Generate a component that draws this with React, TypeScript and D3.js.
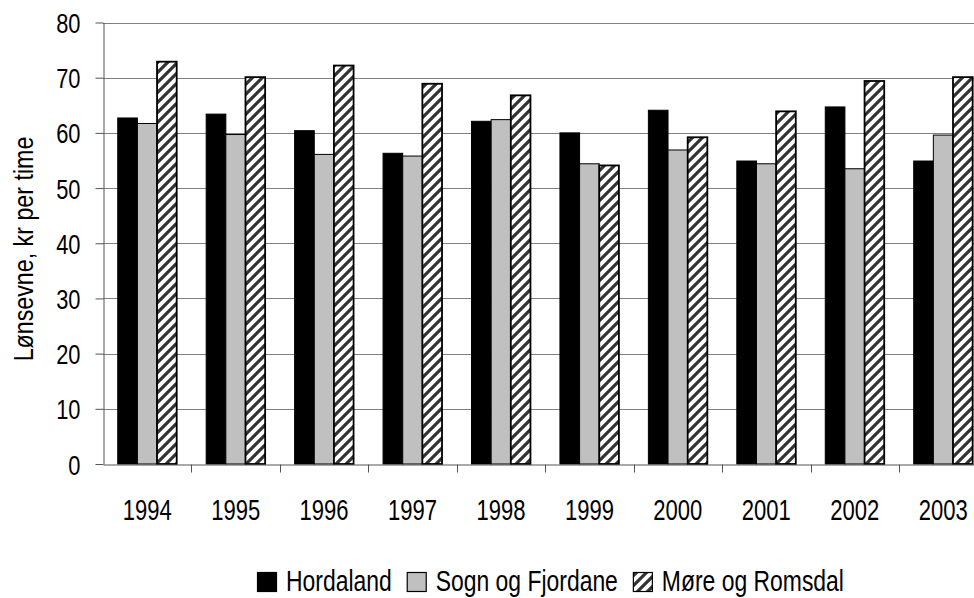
import { useRef, useEffect } from 'react';
import * as d3 from 'd3';

// data
const years = ['1994', '1995', '1996', '1997', '1998', '1999', '2000', '2001', '2002', '2003'];
const hordaland = [62.7, 63.4, 60.4, 56.3, 62.1, 60.0, 64.1, 54.9, 64.7, 54.9];
const sognOgFjordane = [61.7, 59.7, 56.1, 55.8, 62.4, 54.4, 56.9, 54.4, 53.5, 59.6];
const moreOgRomsdal = [72.9, 70.1, 72.2, 68.9, 66.8, 54.1, 59.2, 63.9, 69.4, 70.1];
const seriesNames = ['Hordaland', 'Sogn og Fjordane', 'Møre og Romsdal'];
const yTicks = [0, 10, 20, 30, 40, 50, 60, 70, 80];

const W = 974;
const H = 598;
const FONT = '"Liberation Sans", Arial, sans-serif';

const margin = { top: 22.5, left: 103, bottom: 134 };
const plotRight = 987.4; // plot runs past the window edge

// squeeze text horizontally to mimic a condensed face
const narrow = (sel: any, size: number, k: number) => {
  sel.attr('font-family', FONT).attr('font-size', size).attr('fill', '#000');
  sel.each(function (this: SVGTextElement) {
    const L = this.getComputedTextLength();
    this.setAttribute('textLength', String(L * k));
    this.setAttribute('lengthAdjust', 'spacingAndGlyphs');
  });
};

const App = () => {
  const ref = useRef<SVGSVGElement>(null);

  useEffect(() => {
    const svg = d3.select(ref.current);
    svg.selectAll('*').remove();

    const defs = svg.append('defs');
    const pat = defs
      .append('pattern')
      .attr('id', 'hatch')
      .attr('patternUnits', 'userSpaceOnUse')
      .attr('width', 10)
      .attr('height', 10);
    pat.append('rect').attr('width', 10).attr('height', 10).attr('fill', '#fff');
    pat
      .append('path')
      .attr('d', 'M-2,12 L12,-2 M-5,5 L5,-5 M5,15 L15,5')
      .attr('stroke', '#333')
      .attr('stroke-width', 3.2);

    const x = d3.scaleBand<string>().domain(years).range([margin.left, plotRight]).padding(0);
    const y = d3.scaleLinear().domain([0, 80]).range([H - margin.bottom, margin.top]);
    const bw = x.bandwidth() / 4.5;

    const series = [hordaland, sognOgFjordane, moreOgRomsdal];
    const fills = ['#000', '#c0c0c0', 'url(#hatch)'];

    // gridlines
    svg
      .append('g')
      .selectAll('line')
      .data(yTicks.filter((t) => t > 0))
      .join('line')
      .attr('x1', margin.left)
      .attr('x2', plotRight)
      .attr('y1', (d) => Math.round(y(d)) + 0.5)
      .attr('y2', (d) => Math.round(y(d)) + 0.5)
      .attr('stroke', '#808080')
      .attr('stroke-width', 1);

    // bars
    series.forEach((vals, si) => {
      svg
        .append('g')
        .selectAll('rect')
        .data(vals)
        .join('rect')
        .attr('x', (_, i) => (x(years[i]) as number) + 0.75 * bw + si * bw)
        .attr('y', (d) => y(d))
        .attr('width', bw)
        .attr('height', (d) => y(0) - y(d))
        .attr('fill', fills[si])
        .attr('stroke', '#000')
        .attr('stroke-width', si === 2 ? 1.8 : 1);
    });

    // y axis
    const ya = svg
      .append('g')
      .attr('transform', `translate(${margin.left + 0.5},0)`)
      .call(d3.axisLeft(y).tickValues(yTicks).tickSize(8).tickPadding(15).tickSizeOuter(0));
    ya.select('.domain').attr('stroke', '#555');
    ya.selectAll('.tick line').attr('stroke', '#555');
    const yt = ya.selectAll('.tick text').attr('dy', '0.36em');
    narrow(yt, 28, 0.78);

    // x axis
    const xa = svg
      .append('g')
      .attr('transform', `translate(0,${Math.round(y(0)) + 0.5})`)
      .call(d3.axisBottom(x).tickSize(0).tickPadding(35));
    xa.select('.domain').attr('stroke', '#555');
    narrow(xa.selectAll('.tick text'), 29, 0.76);
    xa.append('g')
      .selectAll('line')
      .data(years.slice(1))
      .join('line')
      .attr('x1', (d) => Math.round(x(d) as number) + 0.5)
      .attr('x2', (d) => Math.round(x(d) as number) + 0.5)
      .attr('y1', 0)
      .attr('y2', 8)
      .attr('stroke', '#555');

    // y title
    const title = svg
      .append('text')
      .attr('transform', `translate(33,${249}) rotate(-90)`)
      .attr('text-anchor', 'middle')
      .text('Lønsevne, kr per time');
    narrow(title, 28, 0.83);

    // legend
    const lg = svg.append('g').attr('transform', 'translate(257,572)');
    let lx = 0;
    seriesNames.forEach((name, i) => {
      lg.append('rect')
        .attr('x', lx + 0.5)
        .attr('y', 0.5)
        .attr('width', 19)
        .attr('height', 19)
        .attr('fill', fills[i])
        .attr('stroke', '#000')
        .attr('stroke-width', 1.2);
      const t = lg
        .append('text')
        .attr('x', lx + 29)
        .attr('y', 19)
        .text(name);
      narrow(t, 29, 0.79);
      const tw = (t.node() as SVGTextElement).getComputedTextLength();
      lx += 29 + tw + 15;
    });
  }, []);

  return (
    <div style={{ position: 'fixed', left: 0, top: 0, width: W, height: H, overflow: 'hidden', background: '#fff' }}>
      <svg ref={ref} width={W} height={H} />
    </div>
  );
};

export default App;
